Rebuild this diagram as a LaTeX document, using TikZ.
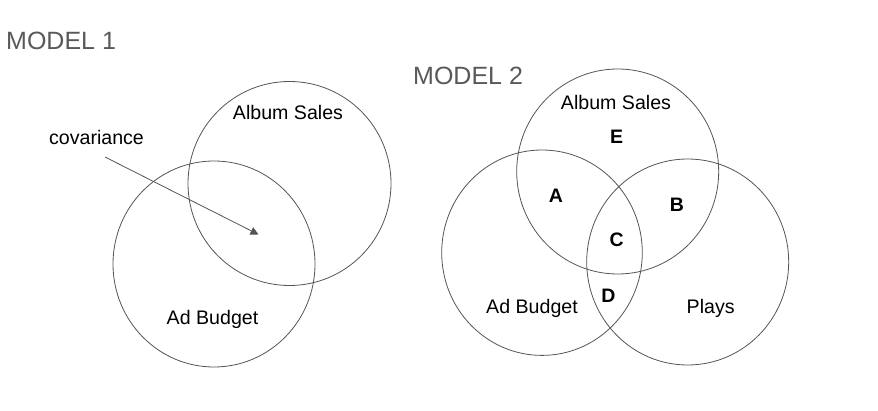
\documentclass[tikz,border=0pt]{standalone}
\usepackage{fontspec}
\setmainfont{Liberation Sans}
\usetikzlibrary{arrows.meta}
\definecolor{ringgray}{RGB}{85,85,85}
\definecolor{titlegray}{RGB}{89,89,89}
\begin{document}
\begin{tikzpicture}[x=1pt,y=-1pt,
  ring/.style={draw=ringgray,line width=0.8pt},
  title/.style={anchor=base west,inner sep=0pt,text=titlegray,font=\fontsize{25}{28}\selectfont},
  lbl/.style={anchor=base,inner sep=0pt,font=\fontsize{19.6}{22}\selectfont},
  region/.style={anchor=base,inner sep=0pt,font=\fontsize{19.5}{21}\selectfont\bfseries}]
\useasboundingbox (0,0) rectangle (878,411);
\fill[white] (0,0) rectangle (878,411);
% Model 1
\node[title] (t1) at (6,50) {MODEL 1};
\draw[ring] (289.5,183.5) ellipse [x radius=101.5,y radius=102];
\draw[ring] (214,264) ellipse [x radius=101,y radius=103];
\node[lbl] (as1) at (288,120) {Album Sales};
\node[lbl] (ab1) at (212.5,325) {Ad Budget};
\node[lbl] (cov) at (96.5,145) {covariance};
\coordinate (covstart) at (105,157);
\coordinate (covend) at (258.5,234.5);
\draw[ringgray,line width=0.8pt,-{Triangle[width=8pt,length=8pt]}] (covstart) -- (covend);
% Model 2
\node[title] (t2) at (413,85) {MODEL 2};
\draw[ring] (617.7,171.5) ellipse [x radius=101,y radius=102.5];
\draw[ring] (542,252.7) ellipse [x radius=100.3,y radius=102.7];
\draw[ring] (687.7,262) ellipse [x radius=101,y radius=103];
\node[lbl] (as2) at (616,110) {Album Sales};
\node[lbl] (ab2) at (532,314) {Ad Budget};
\node[lbl] (pl) at (710.7,314) {Plays};
\node[region] (rE) at (616.7,144) {E};
\node[region] (rA) at (556,203) {A};
\node[region] (rB) at (677,211.5) {B};
\node[region] (rC) at (616.7,246.5) {C};
\node[region] (rD) at (608.3,303) {D};
\end{tikzpicture}
\end{document}
